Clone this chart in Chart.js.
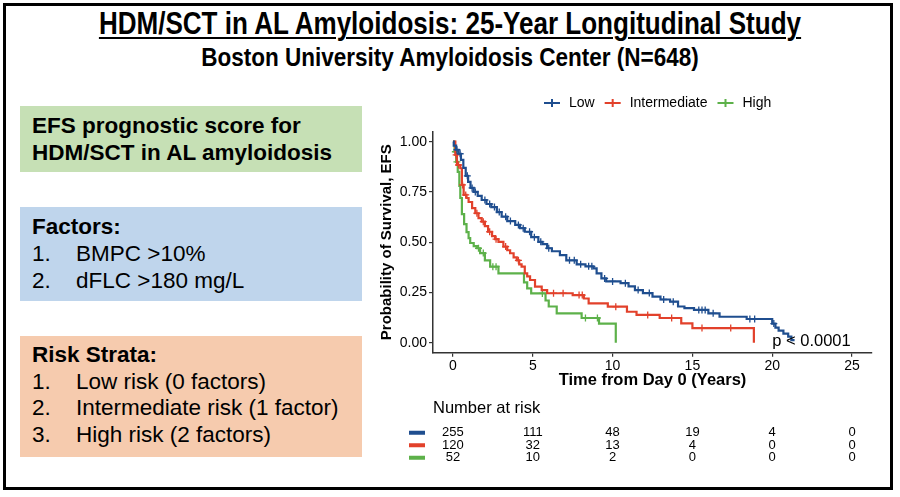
<!DOCTYPE html>
<html lang="en">
<head>
    <meta charset="UTF-8">
    <title>HDM/SCT in AL Amyloidosis - EFS by risk strata</title>
    <script src="https://cdn.jsdelivr.net/npm/chart.js"></script>
    <style>
        body {
            margin: 0;
            width: 900px;
            height: 497px;
            background: #fff;
            font-family: "Liberation Sans", Arial, sans-serif;
            position: relative;
            overflow: hidden;
        }
        .frame {
            position: absolute;
            left: 3px; top: 3px;
            width: 890px; height: 487px;
            border: 3px solid #000;
            box-sizing: border-box;
        }
        .title, .subtitle {
            position: absolute;
            left: 0; width: 900px;
            text-align: center;
            font-weight: bold;
            transform-origin: 450px 0;
        }
        .title {
            top: 6px;
            font-size: 31px;
            transform: scaleX(0.84);
            text-decoration: underline;
            text-decoration-thickness: 2px;
            text-underline-offset: 3px;
        }
        .subtitle {
            top: 43px;
            font-size: 25px;
            transform: scaleX(0.9);
        }
        .box {
            position: absolute;
            left: 20px; width: 342px;
            padding: 6px 0 0 12px;
            box-sizing: border-box;
            font-size: 22.5px;
            line-height: 27px;
            color: #000;
        }
        .box .n { display: inline-block; width: 44px; }
        .green { top: 106px; height: 66px; background: #c6e0b5; font-weight: bold; }
        .blue { top: 207px; height: 94px; background: #bfd5ec; }
        .orange { top: 336px; height: 121px; background: #f6cbae; line-height: 26.7px; }
        #wrap {
            position: absolute;
            left: 370px; top: 85px;
            width: 520px; height: 385px;
        }
    </style>
</head>
<body>
    <div class="frame"></div>
    <div class="title">HDM/SCT in AL Amyloidosis: 25-Year Longitudinal Study</div>
    <div class="subtitle">Boston University Amyloidosis Center (N=648)</div>

    <div class="box green">EFS prognostic score for<br>HDM/SCT in AL amyloidosis</div>
    <div class="box blue"><b>Factors:</b><br><span class="n">1.</span>BMPC &gt;10%<br><span class="n">2.</span>dFLC &gt;180 mg/L</div>
    <div class="box orange"><b>Risk Strata:</b><br><span class="n">1.</span>Low risk (0 factors)<br><span class="n">2.</span>Intermediate risk (1 factor)<br><span class="n">3.</span>High risk (2 factors)</div>

    <div id="wrap"><canvas id="km" width="520" height="385"></canvas></div>

    <script>
        // Kaplan-Meier steps (years, EFS probability)
        const lowTime = [0, 0.05, 0.2, 0.35, 0.5, 0.65, 0.8, 0.95, 1.1, 1.3, 1.55, 1.8, 2.1, 2.4, 2.75, 3.05, 3.4, 3.9, 4.2, 4.5, 4.9, 5.35, 5.6, 5.9, 6.2, 6.7, 7.1, 7.75, 8.3, 8.8, 9.0, 9.3, 9.6, 10.5, 11.0, 11.4, 11.9, 12.5, 13.0, 13.6, 14.1, 14.5, 15.1, 16.0, 16.7, 18.4, 20.0, 20.2, 20.4, 20.7, 21.0, 21.2, 21.4];
        const lowSurv = [1, 0.98, 0.96, 0.94, 0.91, 0.87, 0.83, 0.80, 0.77, 0.75, 0.73, 0.71, 0.69, 0.675, 0.65, 0.627, 0.605, 0.586, 0.57, 0.552, 0.525, 0.502, 0.49, 0.47, 0.455, 0.436, 0.41, 0.39, 0.38, 0.37, 0.345, 0.32, 0.305, 0.296, 0.28, 0.262, 0.247, 0.229, 0.215, 0.204, 0.18, 0.172, 0.163, 0.146, 0.129, 0.118, 0.095, 0.075, 0.06, 0.045, 0.03, 0.013, 0.013];
        const lowCensT = [0.25, 0.45, 0.9, 1.2, 1.4, 2.0, 2.3, 2.6, 2.9, 3.3, 3.6, 4.1, 4.4, 4.8, 5.1, 5.5, 6.0, 7.3, 7.6, 8.0, 8.5, 8.7, 9.5, 10.0, 10.8, 11.6, 12.3, 13.2, 13.8, 15.4, 15.6, 15.8, 16.3, 18.6, 18.9, 20.1];
        const lowCensS = [0.96, 0.94, 0.83, 0.77, 0.75, 0.71, 0.69, 0.675, 0.65, 0.627, 0.605, 0.586, 0.57, 0.552, 0.525, 0.502, 0.47, 0.41, 0.41, 0.39, 0.38, 0.38, 0.32, 0.305, 0.296, 0.262, 0.247, 0.215, 0.204, 0.163, 0.163, 0.163, 0.146, 0.118, 0.118, 0.095];

        const intTime = [0, 0.15, 0.25, 0.46, 0.56, 0.67, 0.85, 0.98, 1.2, 1.4, 1.6, 1.8, 2.0, 2.2, 2.45, 2.64, 2.85, 3.16, 3.4, 3.58, 3.8, 4.0, 4.15, 4.3, 4.5, 4.65, 4.83, 5.14, 5.56, 5.9, 7.5, 8.2, 8.5, 9.7, 10.9, 11.5, 12.95, 14.3, 15.0, 18.85];
        const intSurv = [1, 0.934, 0.884, 0.868, 0.785, 0.735, 0.72, 0.70, 0.67, 0.644, 0.62, 0.602, 0.58, 0.552, 0.53, 0.515, 0.502, 0.478, 0.46, 0.445, 0.425, 0.41, 0.39, 0.378, 0.345, 0.33, 0.312, 0.279, 0.262, 0.246, 0.237, 0.22, 0.196, 0.179, 0.154, 0.138, 0.123, 0.096, 0.073, 0];
        const intCensT = [0.2, 0.35, 0.6, 0.8, 1.5, 1.9, 2.3, 2.7, 3.3, 4.1, 6.3, 6.9, 7.9, 8.1, 10.2, 12.2, 13.7, 15.6, 17.4];
        const intCensS = [0.934, 0.884, 0.785, 0.735, 0.644, 0.602, 0.552, 0.515, 0.478, 0.41, 0.246, 0.246, 0.237, 0.237, 0.179, 0.138, 0.123, 0.073, 0.073];

        const highTime = [0, 0.1, 0.2, 0.3, 0.4, 0.46, 0.56, 0.7, 0.85, 0.98, 1.08, 1.3, 1.5, 1.7, 2.0, 2.33, 2.85, 4.45, 4.65, 4.9, 5.8, 6.0, 6.5, 8.06, 9.15, 10.2];
        const highSurv = [1, 0.95, 0.90, 0.85, 0.78, 0.72, 0.64, 0.59, 0.55, 0.52, 0.496, 0.48, 0.47, 0.446, 0.41, 0.378, 0.345, 0.30, 0.27, 0.245, 0.21, 0.18, 0.146, 0.123, 0.095, 0];
        const highCensT = [0.15, 0.25, 1.6, 1.9, 2.5, 2.7, 5.6, 8.3, 9.05];
        const highCensS = [0.95, 0.90, 0.47, 0.446, 0.378, 0.378, 0.245, 0.123, 0.123];

        const groups = ['Low', 'Intermediate', 'High'];
        const colors = ['#1f4e8f', '#e2412b', '#5db14a'];

        const xTicks = [0, 5, 10, 15, 20, 25];
        const yTicks = [0, 0.25, 0.5, 0.75, 1];

        // number at risk at each x tick
        const riskLow = [255, 111, 48, 19, 4, 0];
        const riskInt = [120, 32, 13, 4, 0, 0];
        const riskHigh = [52, 10, 2, 0, 0, 0];

        const toXY = (ts, ss) => ts.map((t, i) => ({ x: t, y: ss[i] }));

        const curves = [toXY(lowTime, lowSurv), toXY(intTime, intSurv), toXY(highTime, highSurv)];
        const censors = [toXY(lowCensT, lowCensS), toXY(intCensT, intCensS), toXY(highCensT, highCensS)];
        const risk = [riskLow, riskInt, riskHigh];

        const datasets = [];
        groups.forEach((g, i) => {
            datasets.push({
                label: g,
                data: curves[i],
                showLine: true,
                stepped: true,
                borderColor: colors[i],
                borderWidth: 2.2,
                pointRadius: 0,
                fill: false
            });
            datasets.push({
                label: g + ' censored',
                data: censors[i],
                showLine: false,
                pointStyle: 'cross',
                pointRadius: 3.5,
                borderWidth: 1.3,
                borderColor: colors[i],
                backgroundColor: colors[i]
            });
        });

        const font = '"Liberation Sans", Arial, sans-serif';

        // legend on top + risk table under the axis + p value
        const extras = {
            id: 'extras',
            afterDraw(chart) {
                const ctx = chart.ctx;
                const xs = chart.scales.x;
                const ys = chart.scales.y;
                const area = chart.chartArea;
                ctx.save();

                // legend
                ctx.font = '14px ' + font;
                ctx.textBaseline = 'middle';
                ctx.textAlign = 'left';
                let lx = 174;
                const ly = 18;
                groups.forEach((g, i) => {
                    ctx.strokeStyle = colors[i];
                    ctx.lineWidth = 2;
                    ctx.beginPath();
                    ctx.moveTo(lx, ly); ctx.lineTo(lx + 16, ly);
                    ctx.moveTo(lx + 8, ly - 4); ctx.lineTo(lx + 8, ly + 4);
                    ctx.stroke();
                    ctx.fillStyle = '#000';
                    ctx.fillText(g, lx + 25, ly);
                    lx += 25 + ctx.measureText(g).width + 10;
                });

                // p value
                ctx.font = '16.5px ' + font;
                ctx.fillStyle = '#000';
                ctx.fillText('p < 0.0001', xs.getPixelForValue(20), ys.getPixelForValue(0.005));

                // number at risk
                ctx.fillText('Number at risk', area.left, area.bottom + 56);
                ctx.font = '13px ' + font;
                ctx.textAlign = 'center';
                risk.forEach((row, r) => {
                    const y = area.bottom + 80 + r * 12.5;
                    ctx.fillStyle = colors[r];
                    ctx.fillRect(39, y - 2, 16, 4);
                    ctx.fillStyle = '#000';
                    row.forEach((n, k) => {
                        ctx.fillText(String(n), xs.getPixelForValue(xTicks[k]), y);
                    });
                });
                ctx.restore();
            }
        };

        new Chart(document.getElementById('km'), {
            type: 'scatter',
            data: { datasets },
            options: {
                responsive: false,
                animation: false,
                layout: { padding: { top: 46.65, right: 18, bottom: 77.25, left: 0 } },
                plugins: {
                    legend: { display: false },
                    tooltip: { enabled: false }
                },
                scales: {
                    x: {
                        type: 'linear',
                        min: -1.25,
                        max: 26.25,
                        afterBuildTicks: (s) => { s.ticks = xTicks.map(v => ({ value: v })); },
                        afterFit: (s) => { s.height = 40; },
                        grid: { display: true, drawOnChartArea: false, drawTicks: true, tickLength: 4, color: '#333', lineWidth: 1.2 },
                        border: { display: true, color: '#333', width: 1.5 },
                        ticks: { color: '#000', padding: 1, font: { family: font, size: 14 } },
                        title: {
                            display: true,
                            text: 'Time from Day 0 (Years)',
                            color: '#000',
                            padding: { top: 0, bottom: 2 },
                            font: { family: font, size: 16.5, weight: 'bold' }
                        }
                    },
                    y: {
                        min: -0.05,
                        max: 1.05,
                        afterBuildTicks: (s) => { s.ticks = yTicks.map(v => ({ value: v })); },
                        afterFit: (s) => { s.width = 63; },
                        grid: { display: true, drawOnChartArea: false, drawTicks: true, tickLength: 4, color: '#333', lineWidth: 1.2 },
                        border: { display: true, color: '#333', width: 1.5 },
                        ticks: {
                            color: '#000',
                            padding: 2,
                            font: { family: font, size: 14 },
                            callback: (v) => v.toFixed(2)
                        },
                        title: {
                            display: true,
                            text: 'Probability of Survival, EFS',
                            color: '#000',
                            padding: { top: 8, bottom: 0 },
                            font: { family: font, size: 15, weight: 'bold' }
                        }
                    }
                }
            },
            plugins: [extras]
        });
    </script>
</body>
</html>
